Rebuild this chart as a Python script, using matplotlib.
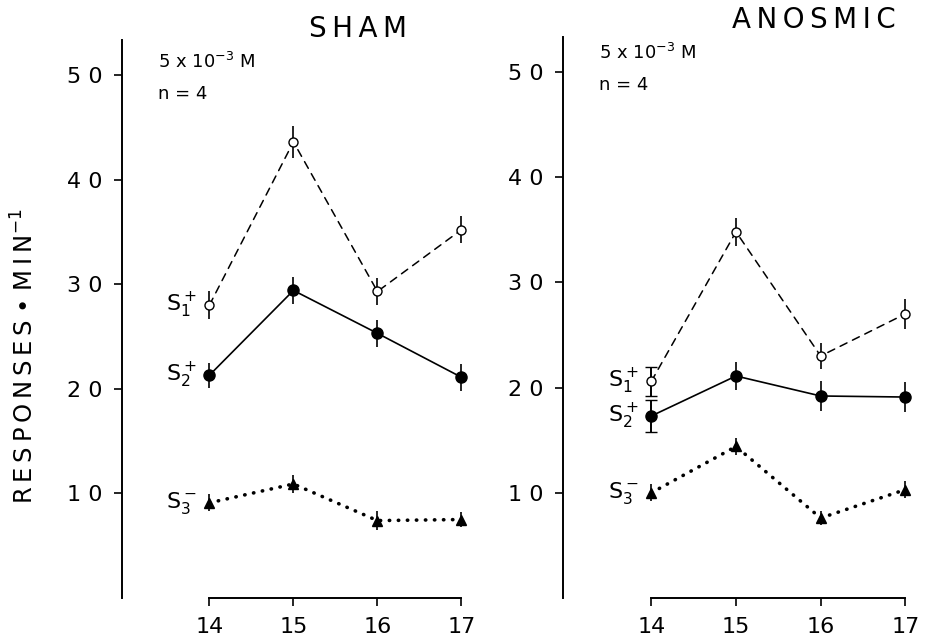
import matplotlib
matplotlib.use('Agg')
import matplotlib.pyplot as plt

# dias
days = [14, 15, 16, 17]

# SHAM
sham_s1 = [28.0, 43.6, 29.3, 35.2]
sham_s1_err = [1.3, 1.5, 1.3, 1.3]
sham_s2 = [21.3, 29.4, 25.3, 21.1]
sham_s2_err = [1.2, 1.3, 1.3, 1.3]
sham_s3 = [9.1, 10.9, 7.4, 7.5]
sham_s3_err = [0.8, 0.9, 0.9, 0.7]

# ANOSMIC
anos_s1 = [20.6, 34.8, 23.0, 27.0]
anos_s1_err = [1.4, 1.3, 1.2, 1.4]
anos_s2 = [17.3, 21.1, 19.2, 19.1]
anos_s2_err = [1.5, 1.3, 1.4, 1.4]
anos_s3 = [10.0, 14.4, 7.6, 10.3]
anos_s3_err = [0.8, 0.8, 0.7, 0.8]

titles = ['SHAM', 'ANOSMIC']
labels = [r'S$_1^+$', r'S$_2^+$', r'S$_3^-$']

FONT_SIZE = 16
TS = '\u2009'   # espaço fino entre letras


def spaced(s):
    return TS.join(s)


fig = plt.figure(figsize=(9.25, 6.38), dpi=100)
ax1 = fig.add_axes([0.132, 0.0627, 0.385, 0.874])
ax2 = fig.add_axes([0.609, 0.0627, 0.388, 0.879])

panels = [
    (ax1, [(sham_s1, sham_s1_err), (sham_s2, sham_s2_err), (sham_s3, sham_s3_err)], False),
    (ax2, [(anos_s1, anos_s1_err), (anos_s2, anos_s2_err), (anos_s3, anos_s3_err)], True),
]

styles = [
    dict(ls=(0, (5, 4)), marker='o', mfc='white', ms=6.5, lw=1.1),
    dict(ls='-', marker='o', mfc='black', ms=8, lw=1.2),
    dict(ls=(0, (0.1, 2.4)), marker='^', mfc='black', ms=7.5, lw=2.6),
]

for i, (ax, series, capped) in enumerate(panels):
    for k, ((y, e), st, lab) in enumerate(zip(series, styles, labels)):
        lines = ax.errorbar(days, y, yerr=e, color='black', mec='black', capsize=0,
                            elinewidth=1.2, **st)
        lines[0].set_dash_capstyle('round')
        if capped and k < 2:
            ax.errorbar(days[:1], y[:1], yerr=e[:1], fmt='none', ecolor='black',
                        capsize=4, elinewidth=1.2)
        ax.text(days[0] - 0.15, y[0], lab, ha='right', va='center', fontsize=16)

    ax.set_xlim(12.96, 17.2)
    ax.set_ylim(0, 53.3)
    ax.spines['top'].set_visible(False)
    ax.spines['right'].set_visible(False)
    ax.spines['bottom'].set_bounds(14, 17)
    ax.spines['left'].set_linewidth(1.4)
    ax.spines['bottom'].set_linewidth(1.4)
    ax.set_yticks([10, 20, 30, 40, 50])
    ax.set_yticklabels(['1 0', '2 0', '3 0', '4 0', '5 0'])
    ax.set_xticks(days)
    ax.tick_params(axis='both', direction='out', length=6, width=1.2,
                   labelsize=FONT_SIZE, pad=8)
    ax.text(0.1, 0.98 if i == 0 else 0.99, r'5 x 10$^{-3}$ M', transform=ax.transAxes,
            fontsize=13, va='top')
    ax.text(0.1, 0.92 if i == 0 else 0.93, 'n = 4', transform=ax.transAxes,
            fontsize=13, va='top')

fig.text(0.387, 0.955, spaced(titles[0]), fontsize=20, ha='center', va='center')
fig.text(0.88, 0.968, spaced(titles[1]), fontsize=20, ha='center', va='center')
fig.text(0.027, 0.442, spaced('RESPONSES') + ' \u2022 ' + spaced('MIN') + '$^{-1}$',
         rotation=90, fontsize=17.5, ha='center', va='center')

plt.savefig('out.png', dpi=100)
